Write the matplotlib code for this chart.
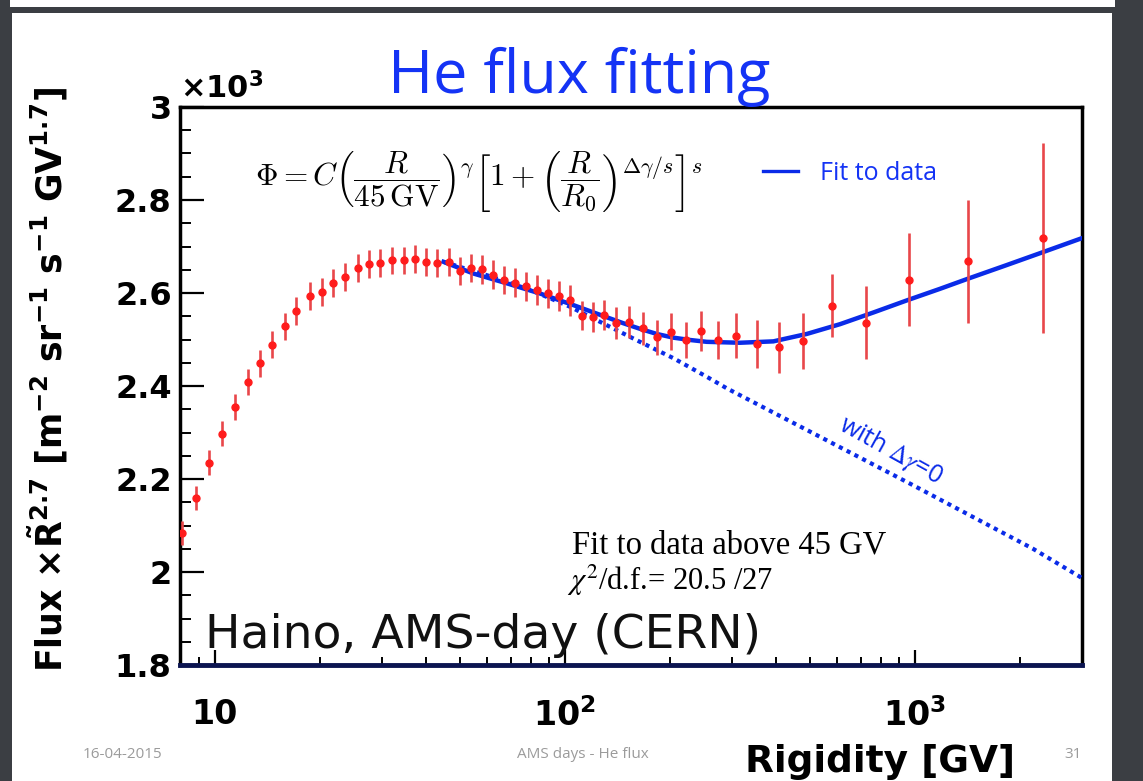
import matplotlib
matplotlib.use('Agg')
import matplotlib.pyplot as plt
from matplotlib.patches import Rectangle
from matplotlib.lines import Line2D
from matplotlib.ticker import MultipleLocator, FixedLocator, FuncFormatter, NullFormatter, LogLocator

# He flux x R^2.7 (in units of 10^3)
rig = [8.05, 8.81, 9.63, 10.5, 11.4, 12.4, 13.45, 14.6, 15.85, 17.1,
       18.65, 20.2, 21.8, 23.6, 25.6, 27.6, 29.7, 32.1, 34.7, 37.3,
       40.2, 43.2, 46.6, 50.1, 53.9, 57.8, 62.1, 66.9, 71.9, 77.4,
       83.0, 89.2, 96.0, 103.3, 111.6, 120.0, 129.2, 139.9, 152.7, 167.4,
       182.9, 200.5, 221.3, 244.7, 273, 308, 353, 408, 480, 579,
       725, 961, 1420, 2317]
flux = [2.084, 2.159, 2.235, 2.297, 2.355, 2.409, 2.449, 2.489, 2.529, 2.561,
        2.594, 2.603, 2.622, 2.634, 2.653, 2.662, 2.665, 2.670, 2.670, 2.673,
        2.666, 2.664, 2.666, 2.648, 2.653, 2.651, 2.639, 2.628, 2.622, 2.614,
        2.606, 2.599, 2.594, 2.584, 2.551, 2.548, 2.553, 2.535, 2.538, 2.524,
        2.505, 2.517, 2.499, 2.518, 2.499, 2.508, 2.490, 2.483, 2.496, 2.573,
        2.536, 2.629, 2.668, 2.719]
flux_err = [0.025, 0.026, 0.027, 0.027, 0.028, 0.028, 0.029, 0.029, 0.029, 0.030,
            0.030, 0.030, 0.030, 0.030, 0.030, 0.030, 0.030, 0.030, 0.030, 0.030,
            0.030, 0.030, 0.030, 0.030, 0.030, 0.031, 0.031, 0.031, 0.031, 0.031,
            0.032, 0.032, 0.032, 0.033, 0.031, 0.032, 0.033, 0.034, 0.035, 0.036,
            0.038, 0.039, 0.039, 0.043, 0.040, 0.048, 0.051, 0.054, 0.060, 0.068,
            0.078, 0.099, 0.133, 0.204]

# fitted curve (solid) and the Delta gamma = 0 curve (dotted)
fit_rig = [45, 54.7, 68.1, 84.8, 105.7, 117.9, 131.5, 146.8, 163.8, 182.8,
           203.9, 227.5, 254, 283, 316, 394, 491, 611, 760, 947,
           1179, 1420, 1827, 2323, 3000]
fit_flux = [2.667, 2.642, 2.621, 2.599, 2.574, 2.561, 2.548, 2.535, 2.523, 2.512,
            2.504, 2.499, 2.495, 2.494, 2.493, 2.496, 2.512, 2.533, 2.558, 2.584,
            2.609, 2.631, 2.660, 2.688, 2.718]
nobreak_rig = [45, 60, 80, 103, 131.5, 163.8, 203.9, 254, 290, 968, 2173, 3000]
nobreak_flux = [2.667, 2.638, 2.606, 2.571, 2.531, 2.495, 2.460, 2.420, 2.395, 2.190, 2.050, 1.987]

xticks = [10, 100, 1000]
xtick_labels = ['10', r'$\mathbf{10^{2}}$', r'$\mathbf{10^{3}}$']

BLUE = '#0a2be8'
TITLE_BLUE = '#1433f5'

plt.rcParams['mathtext.fontset'] = 'dejavusans'

W, H = 1143, 781
fig = plt.figure(figsize=(W / 100, H / 100), dpi=100, facecolor='#3b3e43')

# slide background
fig.patches.append(Rectangle((12 / W, 0), 1100 / W, 768 / H, transform=fig.transFigure,
                             facecolor='white', edgecolor='none', zorder=-10))
fig.patches.append(Rectangle((10 / W, 774 / H), 1105 / W, 7 / H, transform=fig.transFigure,
                             facecolor='white', edgecolor='none', zorder=-10))

ax = fig.add_axes([180 / W, 116 / H, 902 / W, 558 / H])
ax.set_xscale('log')
ax.set_xlim(7.95, 3000)
ax.set_ylim(1.8, 3.0)

ax.plot(fit_rig, fit_flux, color=BLUE, lw=3.2, zorder=3)
ax.plot(nobreak_rig, nobreak_flux, color=BLUE, lw=3, ls=(0, (1, 1.1)), zorder=3)
ax.errorbar(rig, flux, yerr=flux_err, fmt='o', ms=5, color='#ff1c1c', ecolor='#e8474a',
            elinewidth=1.9, capsize=0, zorder=4)

# axes ticks, ROOT style
ax.yaxis.set_major_locator(MultipleLocator(0.2))
ax.yaxis.set_minor_locator(MultipleLocator(0.05))
ax.yaxis.set_major_formatter(FuncFormatter(lambda v, p: '%g' % v))
ax.tick_params(axis='y', which='major', direction='in', length=17, width=1.6, labelsize=23, pad=6)
ax.tick_params(axis='y', which='minor', direction='in', length=8, width=1.4)
ax.xaxis.set_major_locator(FixedLocator(xticks))
ax.set_xticklabels(xtick_labels)
ax.xaxis.set_minor_locator(LogLocator(base=10, subs=range(2, 10)))
ax.xaxis.set_minor_formatter(NullFormatter())
ax.tick_params(axis='x', which='major', direction='in', length=11, width=1.6, labelsize=24, pad=24)
ax.tick_params(axis='x', which='minor', direction='in', length=6, width=1.4)
for lab in ax.get_xticklabels() + ax.get_yticklabels():
    lab.set_fontweight('bold')
    lab.set_family('DejaVu Sans')

for side in ['left', 'top', 'right']:
    ax.spines[side].set_linewidth(2.5)
    ax.spines[side].set_color('black')
ax.spines['bottom'].set_linewidth(3.5)
ax.spines['bottom'].set_color('#0b1450')

ax.text(0.0, 1.016, r'×10$^{\mathbf{3}}$', transform=ax.transAxes, ha='left', va='baseline',
        fontsize=22, fontweight='bold', family='DejaVu Sans')

fig.text(48 / W, 1 - 380 / H,
         r'Flux ×$\mathbf{\tilde{R}^{2.7}}$ [m$^{\mathbf{-2}}$ sr$^{\mathbf{-1}}$ s$^{\mathbf{-1}}$ GV$^{\mathbf{1.7}}$]',
         rotation=90, ha='center', va='center', fontsize=25, fontweight='bold', family='DejaVu Sans')
fig.text(880 / W, 1 - 772 / H, 'Rigidity [GV]', ha='center', va='baseline',
         fontsize=27, fontweight='bold', family='DejaVu Sans')

formula = (r'$\Phi = C\left(\dfrac{R}{45\,\mathrm{GV}}\right)^{\gamma}'
           r'\left[1+\left(\dfrac{R}{R_0}\right)^{\Delta\gamma/s}\right]^{s}$')
ax.text(0.083, 0.864, formula, transform=ax.transAxes, fontsize=22.5, math_fontfamily='cm',
        ha='left', va='center')

legend_line = Line2D([], [], color=BLUE, lw=2.4)
ax.legend(handles=[legend_line], labels=['Fit to data'], loc='center left',
          bbox_to_anchor=((763 - 180) / 902, (665 - 173) / 558),
          frameon=False, borderpad=0, borderaxespad=0, handlelength=1.4, handletextpad=0.9,
          prop={'family': 'Open Sans', 'size': 18}, labelcolor=TITLE_BLUE)

ax.text(0.4346, 0.2007, 'Fit to data above 45 GV', transform=ax.transAxes,
        family='Liberation Serif', fontsize=23.5, va='baseline')
ax.text(0.429, 0.134, r'$\chi^2$/d.f.= 20.5 /27', transform=ax.transAxes,
        family='Liberation Serif', math_fontfamily='stix', fontsize=22, va='baseline')
ax.text(0.788, 0.385, r'with $\Delta\gamma$=0', transform=ax.transAxes, rotation=-29,
        rotation_mode='anchor', ha='center', va='center', color=BLUE, fontsize=18,
        family='Open Sans', math_fontfamily='stix')
ax.text(0.0277, 0.0305, 'Haino, AMS-day (CERN)', transform=ax.transAxes, va='baseline',
        fontsize=34, family='DejaVu Sans', color='#111111', zorder=5)

fig.text(579 / W, 1 - 93 / H, 'He flux fitting', ha='center', va='baseline', fontsize=44,
         family='Open Sans', color=TITLE_BLUE)

for txt, xpos in [('16-04-2015', 122), ('AMS days - He flux', 583), ('31', 1073)]:
    fig.text(xpos / W, 1 - 755 / H, txt, ha='center', va='center', fontsize=11,
             family='Open Sans', color='#9b9b9b')

fig.savefig('out.png', dpi=100, facecolor=fig.get_facecolor())
